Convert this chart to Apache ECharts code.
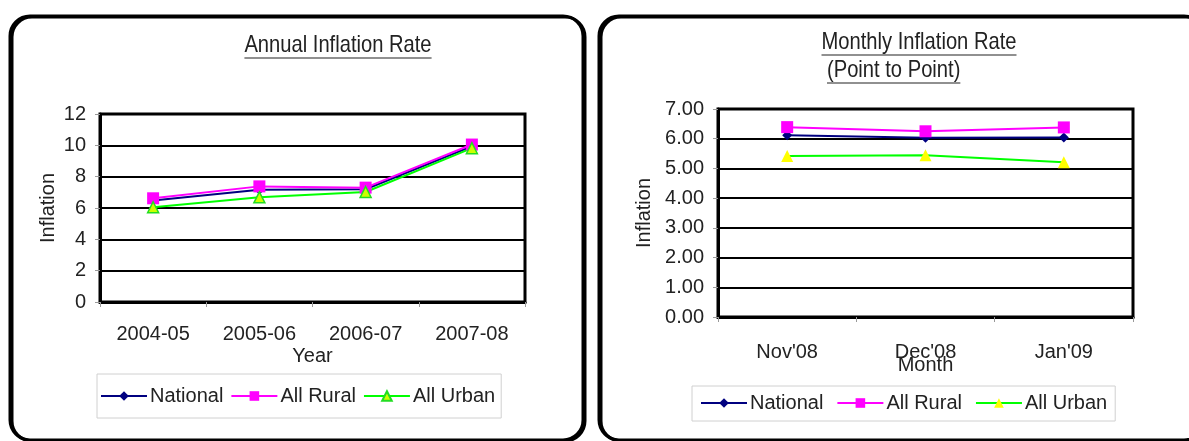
<!DOCTYPE html>
<html>
<head>
<meta charset="utf-8">
<script src="https://cdn.jsdelivr.net/npm/echarts@6/dist/echarts.min.js"></script>
<style>
  html, body { margin: 0; padding: 0; background: #fff; }
  #wrap { position: relative; width: 1189px; height: 441px; overflow: hidden; }
  #annual { position: absolute; left: 0; top: 0; width: 592px; height: 441px; }
  #monthly { position: absolute; left: 592px; top: 0; width: 597px; height: 441px; }
</style>
</head>
<body>
<div id="wrap">
  <div id="annual"></div>
  <div id="monthly"></div>
</div>
<script>
// Annual inflation by fiscal year
const annualYears = ['2004-05', '2005-06', '2006-07', '2007-08'];
const annualNational = [6.48, 7.16, 7.20, 9.94];
const annualRural = [6.62, 7.38, 7.30, 10.05];
const annualUrban = [6.05, 6.68, 7.02, 9.82];
const annualTicks = [0, 2, 4, 6, 8, 10, 12];

// Monthly point-to-point inflation
const months = ["Nov'08", "Dec'08", "Jan'09"];
const monthlyNational = [6.12, 6.03, 6.04];
const monthlyRural = [6.39, 6.25, 6.38];
const monthlyUrban = [5.42, 5.44, 5.21];
const monthlyTicks = ['0.00', '1.00', '2.00', '3.00', '4.00', '5.00', '6.00', '7.00'];

const seriesNames = ['National', 'All Rural', 'All Urban'];
const TEXT = '#222';
const FONT = '"Liberation Sans", Arial, sans-serif';
const TITLE_FONT = '"Liberation Sans Narrow", "Arial Narrow", "Liberation Sans", sans-serif';
const FS = 20;

function textWidth(str, font) {
  const c = document.createElement('canvas').getContext('2d');
  c.font = font;
  return c.measureText(str).width;
}

// Condensed title text with an underline, centred or left-anchored at x
function underlinedTitle(str, x, y, align) {
  const size = 24;
  const sx = 0.84;
  const w = textWidth(str, size + 'px ' + TITLE_FONT) * sx;
  const x0 = align === 'center' ? x - w / 2 : x;
  return [
    { type: 'text', x: x0, y: y, scaleX: sx, silent: true,
      style: { text: str, font: size + 'px ' + TITLE_FONT, fill: TEXT } },
    { type: 'line', silent: true,
      shape: { x1: x0, y1: y + size + 1, x2: x0 + w, y2: y + size + 1 },
      style: { stroke: TEXT, lineWidth: 1.2 } }
  ];
}

function panel(x, y, w, h) {
  return {
    type: 'rect', silent: true, z: -1,
    shape: { x: x, y: y, width: w, height: h, r: 20 },
    style: { fill: 'none', stroke: '#000', lineWidth: 3,
             shadowColor: '#000', shadowOffsetX: 2, shadowOffsetY: 1, shadowBlur: 0 }
  };
}

function valueAxis(ticks, fmt, nameGap) {
  return {
    type: 'value',
    min: Number(ticks[0]), max: Number(ticks[ticks.length - 1]), interval: 1 * (ticks[1] - ticks[0]),
    name: 'Inflation', nameLocation: 'middle', nameGap: nameGap, nameMoveOverlap: false,
    nameTextStyle: { fontFamily: FONT, fontSize: FS, color: TEXT },
    axisLine: { show: true, lineStyle: { color: '#000', width: 3 } },
    axisTick: { show: true, length: 5, lineStyle: { color: '#999', width: 1 } },
    axisLabel: { fontFamily: FONT, fontSize: FS, color: TEXT, margin: 14, formatter: fmt },
    splitLine: { show: true, lineStyle: { color: '#000', width: 2 } }
  };
}

function categoryAxis(cats, name, margin, nameGap) {
  return {
    type: 'category', data: cats, boundaryGap: true,
    name: name, nameLocation: 'middle', nameGap: nameGap, nameMoveOverlap: false,
    nameTextStyle: { fontFamily: FONT, fontSize: FS, color: TEXT },
    axisLine: { show: true, lineStyle: { color: '#000', width: 3 } },
    axisTick: { show: true, length: 5, interval: 0, lineStyle: { color: '#999', width: 1 } },
    axisLabel: { fontFamily: FONT, fontSize: FS, color: TEXT, margin: margin, interval: 0 }
  };
}

function legend(left, top, pad, gap) {
  return {
    data: seriesNames, left: left, top: top, orient: 'horizontal',
    padding: pad, itemGap: gap, itemWidth: 46, itemHeight: 12,
    borderColor: '#d0d0d0', borderWidth: 1, backgroundColor: '#fff',
    selectedMode: false,
    textStyle: { fontFamily: FONT, fontSize: FS, color: TEXT, padding: [0, 0, 0, -2] }
  };
}

function lineSeries(name, data, color, symbol, size, itemStyle) {
  return {
    type: 'line', name: name, data: data,
    symbol: symbol, symbolSize: size,
    lineStyle: { color: color, width: 2 },
    itemStyle: Object.assign({ color: color }, itemStyle || {}),
    emphasis: { disabled: true }, animation: false
  };
}

const annualChart = echarts.init(document.getElementById('annual'), null, { renderer: 'canvas' });
annualChart.setOption({
  animation: false,
  grid: { left: 100, top: 114, width: 425, height: 188, show: true,
          borderColor: '#000', borderWidth: 3, backgroundColor: '#fff' },
  xAxis: categoryAxis(annualYears, 'Year', 22, 44),
  yAxis: valueAxis(annualTicks, null, 42),
  legend: legend(97, 374, [12, 6, 12, 3], 7),
  graphic: [panel(10, 16, 573, 424)].concat(underlinedTitle('Annual Inflation Rate', 338, 33, 'center')),
  series: [
    lineSeries('National', annualNational, '#000080', 'diamond', 10),
    lineSeries('All Rural', annualRural, '#ff00ff', 'rect', 12),
    lineSeries('All Urban', annualUrban, '#00ff00', 'triangle', 11,
               { color: '#ccff00', borderColor: '#22dd22', borderWidth: 1.5 })
  ]
});

const monthlyChart = echarts.init(document.getElementById('monthly'), null, { renderer: 'canvas' });
monthlyChart.setOption({
  animation: false,
  grid: { left: 126, top: 109, width: 415, height: 208, show: true,
          borderColor: '#000', borderWidth: 3, backgroundColor: '#fff' },
  xAxis: categoryAxis(months, 'Month', 25, 38),
  yAxis: valueAxis(monthlyTicks, v => v.toFixed(2), 64),
  legend: legend(100, 386, [7, 8, 8, 8], 13),
  graphic: [panel(7, 16, 605, 424)]
    .concat(underlinedTitle('Monthly Inflation Rate', 327, 30, 'center'))
    .concat(underlinedTitle('(Point to Point)', 235, 58, 'left')),
  series: [
    lineSeries('National', monthlyNational, '#000080', 'diamond', 10),
    lineSeries('All Rural', monthlyRural, '#ff00ff', 'rect', 12),
    lineSeries('All Urban', monthlyUrban, '#00ff00', 'triangle', 12,
               { color: '#ffff00' })
  ]
});
</script>
</body>
</html>
